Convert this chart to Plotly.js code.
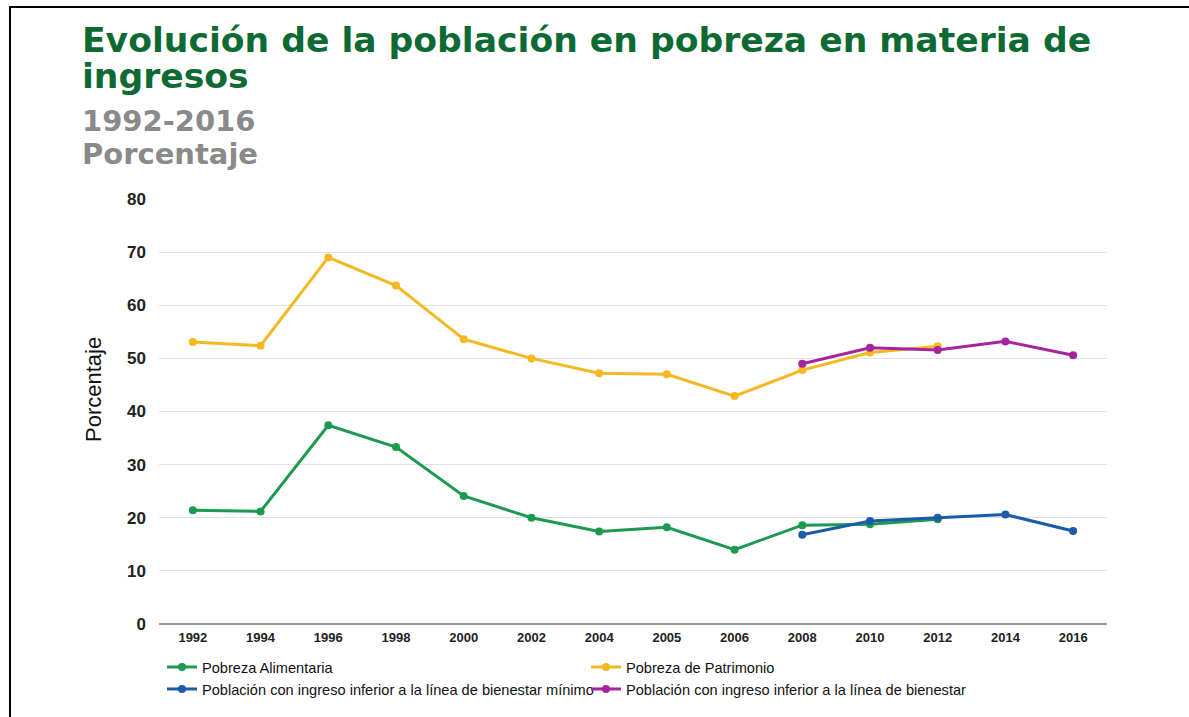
<!DOCTYPE html>
<html>
<head>
<meta charset="utf-8">
<script src="https://cdn.plot.ly/plotly-3.0.1.min.js"></script>
<style>
  html, body { margin: 0; padding: 0; background: #fff; }
  #wrap { position: relative; width: 1189px; height: 717px; overflow: hidden; }
  #chart { position: absolute; left: 0; top: 0; width: 1189px; height: 717px; }
  #frame { position: absolute; left: 9px; top: 6px; width: 1200px; height: 720px;
           border-left: 2px solid #000; border-top: 2px solid #000; pointer-events: none; }
</style>
</head>
<body>
<div id="wrap">
  <div id="chart"></div>
  <div id="frame"></div>
</div>
<script>
// ---- data ----
const years = ["1992","1994","1996","1998","2000","2002","2004","2005","2006","2008","2010","2012","2014","2016"];

const alimYears = ["1992","1994","1996","1998","2000","2002","2004","2005","2006","2008","2010","2012"];
const alimValues = [21.4, 21.2, 37.4, 33.3, 24.1, 20.0, 17.4, 18.2, 14.0, 18.6, 18.8, 19.7];

const patrYears = ["1992","1994","1996","1998","2000","2002","2004","2005","2006","2008","2010","2012"];
const patrValues = [53.1, 52.4, 69.0, 63.7, 53.6, 50.0, 47.2, 47.0, 42.9, 47.8, 51.1, 52.3];

const minYears = ["2008","2010","2012","2014","2016"];
const minValues = [16.8, 19.4, 20.0, 20.6, 17.5];

const bienYears = ["2008","2010","2012","2014","2016"];
const bienValues = [49.0, 52.0, 51.6, 53.2, 50.6];

const seriesNames = [
  "Pobreza Alimentaria",
  "Pobreza de Patrimonio",
  "Población con ingreso inferior a la línea de bienestar mínimo",
  "Población con ingreso inferior a la línea de bienestar"
];
const yTicks = [0, 10, 20, 30, 40, 50, 60, 70, 80];

const titleLines = ["Evolución de la población en pobreza en materia de", "ingresos"];
const subtitleLines = ["1992-2016", "Porcentaje"];
const yTitle = "Porcentaje";

// ---- styles ----
const colors = ["#1b9a50", "#f6b822", "#1b5ca8", "#a6249d"];
const L = 159, T = 199, W = 948, H = 425;
function px2x(p) { return (p - L) / W; }
function py2y(p) { return (T + H - p) / H; }

function mk(x, y, i) {
  return {
    type: "scatter", mode: "lines+markers", x: x, y: y, name: seriesNames[i],
    line: { color: colors[i], width: 3 },
    marker: { color: colors[i], size: 8 }
  };
}
const traces = [
  mk(alimYears, alimValues, 0),
  mk(patrYears, patrValues, 1),
  mk(minYears, minValues, 2),
  mk(bienYears, bienValues, 3)
];

const titleFont = { family: "DejaVu Sans, Liberation Sans, Arial", size: 34.6, color: "#0d6a33", weight: "bold" };
const subFont = { family: "DejaVu Sans, Liberation Sans, Arial", size: 29, color: "#8a8a8a", weight: "bold" };

const annotations = [
  { text: "<b>" + titleLines[0] + "</b>", x: px2x(80), y: py2y(40), xref: "paper", yref: "paper", xanchor: "left", yanchor: "middle", showarrow: false, font: titleFont },
  { text: "<b>" + titleLines[1] + "</b>", x: px2x(80), y: py2y(76), xref: "paper", yref: "paper", xanchor: "left", yanchor: "middle", showarrow: false, font: titleFont },
  { text: "<b>" + subtitleLines[0] + "</b>", x: px2x(80), y: py2y(121), xref: "paper", yref: "paper", xanchor: "left", yanchor: "middle", showarrow: false, font: subFont },
  { text: "<b>" + subtitleLines[1] + "</b>", x: px2x(80), y: py2y(154), xref: "paper", yref: "paper", xanchor: "left", yanchor: "middle", showarrow: false, font: subFont },
  { text: yTitle, x: px2x(93), y: py2y(390), xref: "paper", yref: "paper", xanchor: "center", yanchor: "middle", textangle: -90, showarrow: false,
    font: { family: "Liberation Sans, Arial", size: 22, color: "#111" } }
];

const layout = {
  width: 1189, height: 717,
  margin: { l: L, r: 1189 - L - W, t: T, b: 717 - T - H, pad: 0 },
  paper_bgcolor: "rgba(0,0,0,0)", plot_bgcolor: "#fff",
  showlegend: true,
  xaxis: {
    type: "category", categoryorder: "array", categoryarray: years,
    range: [-0.5, years.length - 0.5],
    showgrid: false, zeroline: false, showline: false, ticks: "",
    tickfont: { family: "Liberation Sans, Arial", size: 13, color: "#222", weight: "bold" },
    ticklabelstandoff: 4, fixedrange: true
  },
  yaxis: {
    range: [0, 80], tickvals: yTicks, ticktext: yTicks.map(String),
    showgrid: true, gridcolor: "#e2e2e2", gridwidth: 1,
    zeroline: true, zerolinecolor: "#9a9a9a", zerolinewidth: 1.5,
    showline: false, ticks: "",
    tickfont: { family: "Liberation Sans, Arial", size: 17, color: "#222", weight: "bold" },
    ticklabelstandoff: 12, fixedrange: true
  },
  legend: {
    orientation: "h", x: px2x(162), y: py2y(651), xanchor: "left", yanchor: "top",
    entrywidth: 379, entrywidthmode: "pixels", itemwidth: 30,
    font: { family: "Liberation Sans, Arial", size: 14.6, color: "#111" },
    bgcolor: "rgba(0,0,0,0)", traceorder: "normal", tracegroupgap: 0
  },
  annotations: annotations
};

Plotly.newPlot("chart", traces, layout, { displayModeBar: false, staticPlot: true });
</script>
</body>
</html>
